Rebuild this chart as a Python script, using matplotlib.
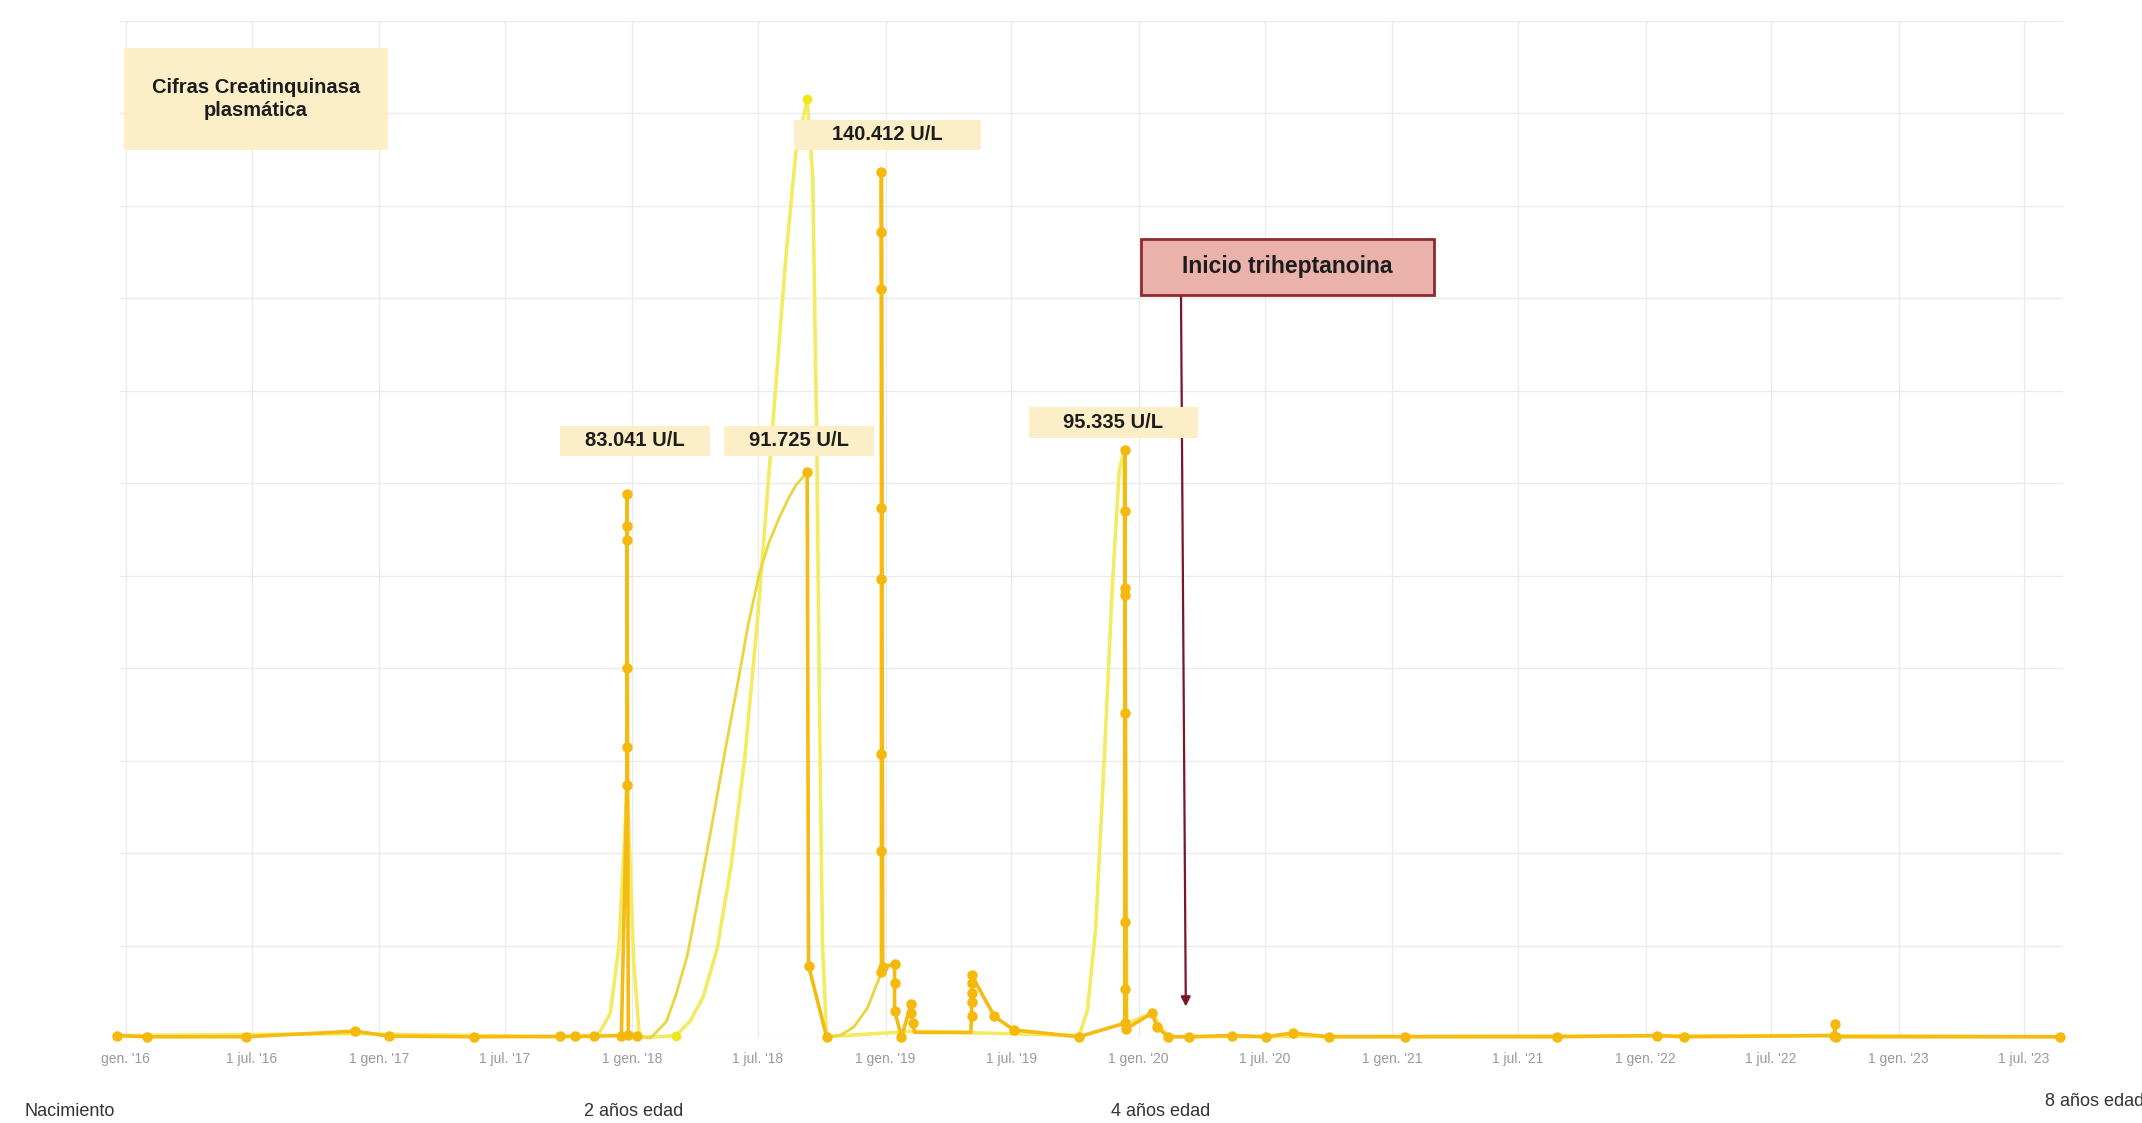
import matplotlib
matplotlib.use("Agg")
import matplotlib.pyplot as plt
import numpy as np
import pandas as pd
from matplotlib.patches import Rectangle

plt.rcParams["font.family"] = ["Liberation Sans", "DejaVu Sans"]

# --- datos (CK plasmática, U/L) ---
gold1_dates = ["2015-12-20", "2016-02-01", "2016-06-22", "2016-11-27", "2017-01-15",
               "2017-05-17", "2017-09-19", "2017-10-10", "2017-11-07", "2017-12-16",
               "2017-12-24", "2017-12-24", "2017-12-24", "2017-12-24", "2017-12-24",
               "2017-12-24", "2017-12-26", "2018-01-07"]
gold1_vals = [400, 200, 200, 1100, 300, 200, 250, 300, 300, 400,
              41000, 47200, 60000, 80700, 83041, 88200, 500, 300]

gold2_dates = ["2018-09-10", "2018-09-12", "2018-10-08"]
gold2_vals = [91725, 11700, 200]

gold3_dates = ["2018-12-26"] * 8 + [
    "2018-12-28", "2019-01-14", "2019-01-14", "2019-01-14", "2019-01-24",
    "2019-02-07", "2019-02-07", "2019-02-09", "2019-02-12", "2019-05-04",
    "2019-05-05", "2019-05-05", "2019-05-05", "2019-05-05", "2019-05-05",
    "2019-06-07", "2019-07-05", "2019-10-07"] + ["2019-12-12"] * 8 + [
    "2019-12-14", "2020-01-20", "2020-01-28", "2020-02-12", "2020-03-13",
    "2020-05-15", "2020-07-02", "2020-08-10", "2020-10-01", "2021-01-19",
    "2021-08-27", "2022-01-18", "2022-02-25", "2022-09-30", "2022-10-01",
    "2022-10-02", "2023-08-22"]
gold3_vals = [10640, 30360, 46090, 74460, 85980, 121430, 130740, 140412,
              11500, 12000, 8900, 4400, 200,
              5500, 4100, 2400, 900, 900,
              3500, 5760, 7300, 8900, 10200,
              3500, 1300, 200,
              2400, 8000, 18800, 52700, 71800, 72900, 85500, 95335,
              1500, 4000, 1800, 200, 200,
              400, 200, 800, 200, 200,
              200, 400, 200, 400, 2200,
              200, 200]
# puntos sin marcador (tramo plano 2019)
gold3_nomark = ["2019-02-12", "2019-05-04"]

# curva suavizada (amarillo medio)
yellow_dates = ["2018-01-07", "2018-01-27", "2018-02-19", "2018-03-05", "2018-03-21",
                "2018-04-08", "2018-04-27", "2018-05-15", "2018-06-02", "2018-06-17",
                "2018-07-03", "2018-07-17", "2018-07-31", "2018-08-14", "2018-08-25",
                "2018-09-10"]
yellow_vals = [300, 0, 2660, 7100, 13300, 23900, 35460, 46800, 57600, 67100,
               75300, 80400, 84200, 87500, 89700, 91725]
yellow2_dates = ["2018-10-08", "2018-10-28", "2018-11-16", "2018-12-06", "2018-12-26"]
yellow2_vals = [200, 440, 1770, 4880, 10640]

# serie clara
pale_dates = ["2015-12-20", "2016-11-27", "2017-09-19", "2017-11-11", "2017-11-30",
              "2017-12-12", "2017-12-20", "2017-12-24", "2017-12-28", "2018-01-03",
              "2018-01-11", "2018-02-09", "2018-03-05", "2018-03-25", "2018-04-13",
              "2018-05-03", "2018-05-23", "2018-06-12", "2018-07-01", "2018-07-21",
              "2018-08-10", "2018-08-25", "2018-09-10", "2018-09-18", "2018-09-24",
              "2018-09-28", "2018-10-02", "2018-10-08", "2019-02-09", "2019-10-07",
              "2019-10-19", "2019-10-31", "2019-11-12", "2019-11-24", "2019-12-04",
              "2019-12-11", "2019-12-15", "2020-01-20", "2020-02-12", "2022-10-01",
              "2023-08-22"]
pale_vals = [400, 700, 200, 200, 4000,
             14400, 31000, 41000, 29900, 12200,
             200, 200, 400, 2700, 6650,
             14400, 27700, 45400, 68700, 97500,
             126300, 144000, 152200, 139600, 95300,
             51000, 15500, 200, 1100, 400,
             4400, 17700, 44300, 73100, 92000,
             95335, 2400, 4000, 200, 400,
             200]
pale_mark_dates = ["2018-03-05", "2018-09-10"]
pale_mark_vals = [400, 152200]

tick_dates = ["2016-01-01", "2016-07-01", "2017-01-01", "2017-07-01", "2018-01-01",
              "2018-07-01", "2019-01-01", "2019-07-01", "2020-01-01", "2020-07-01",
              "2021-01-01", "2021-07-01", "2022-01-01", "2022-07-01", "2023-01-01",
              "2023-07-01"]
tick_labels = ["gen. '16", "1 jul. '16", "1 gen. '17", "1 jul. '17", "1 gen. '18",
               "1 jul. '18", "1 gen. '19", "1 jul. '19", "1 gen. '20", "1 jul. '20",
               "1 gen. '21", "1 jul. '21", "1 gen. '22", "1 jul. '22", "1 gen. '23",
               "1 jul. '23"]

GOLD = "#F6BB12"
YELLOW = "#E9D63E"
PALE = "#F3EC62"

W, H = 2142, 1123
fig = plt.figure(figsize=(W / 100, H / 100), dpi=100)
ax = fig.add_axes([120 / W, 1 - 1038 / H, (2063 - 120) / W, (1038 - 20.5) / H])

d = pd.to_datetime
ax.plot(d(pale_dates), pale_vals, color=PALE, lw=2.6, zorder=2, clip_on=False,
        solid_capstyle="round")
ax.plot(d(pale_mark_dates), pale_mark_vals, "o", color="#F2E41C", ms=6, zorder=2,
        clip_on=False)
for xs, ys in [(yellow_dates, yellow_vals), (yellow2_dates, yellow2_vals)]:
    ax.plot(d(xs), ys, color=YELLOW, lw=2.0, zorder=3, clip_on=False)
for xs, ys in [(gold1_dates, gold1_vals), (gold2_dates, gold2_vals),
               (gold3_dates, gold3_vals)]:
    mk = [i for i, x in enumerate(xs) if x not in gold3_nomark]
    ax.plot(d(xs), ys, color=GOLD, lw=2.6, marker="o", ms=6.5, mfc="#F5B80C",
            mec="#F5B80C", markevery=mk, zorder=4, clip_on=False)

ax.set_xlim(d("2015-12-24"), d("2023-08-26"))
ax.set_ylim(0, 165000)
ax.set_xticks(d(tick_dates))
ax.set_xticklabels(tick_labels)
ax.set_yticks(np.arange(0, 165001, 15000))
ax.set_yticklabels([])
ax.tick_params(axis="both", length=0)
ax.tick_params(axis="x", labelsize=10, labelcolor="#999999", pad=10)
ax.grid(True, color="#ebebeb", lw=1)
ax.set_axisbelow(True)
for s in ax.spines.values():
    s.set_visible(False)


def box(cx, cy, w, h, text, size, fc, ec=None):
    fig.add_artist(Rectangle(((cx - w / 2) / W, 1 - (cy + h / 2) / H), w / W, h / H,
                             transform=fig.transFigure, fc=fc,
                             ec=ec if ec else "none", lw=2 if ec else 0, zorder=5))
    fig.text(cx / W, 1 - cy / H, text, ha="center", va="center", fontsize=size,
             fontweight="bold", color="#1c1c1c", zorder=6, linespacing=1.25)


LABEL_BG = "#FCEFC8"
box(256, 99, 264, 101, "Cifras Creatinquinasa\nplasmática", 14.5, LABEL_BG)
box(887, 135, 187, 30, "140.412 U/L", 14.5, LABEL_BG)
box(635, 441, 150, 30, "83.041 U/L", 14.5, LABEL_BG)
box(799, 441, 150, 30, "91.725 U/L", 14.5, LABEL_BG)
box(1113, 423, 169, 31, "95.335 U/L", 14.5, LABEL_BG)
box(1287, 267, 293, 56, "Inicio triheptanoina", 16.5, "#EBB2AC", ec="#8E2A2E")

ax.annotate("", xy=(d("2020-03-09"), 5100), xytext=(1181 / W, 1 - 296 / H),
            textcoords="figure fraction",
            arrowprops=dict(arrowstyle="-|>", color="#7A1626", lw=1.6,
                            mutation_scale=14, shrinkA=0, shrinkB=0), zorder=6)

for x, y, txt, ha in [(25, 1111, "Nacimiento", "left"),
                      (634, 1111, "2 años edad", "center"),
                      (1161, 1111, "4 años edad", "center"),
                      (2045, 1102, "8 años edad", "left")]:
    fig.text(x / W, 1 - y / H, txt, ha=ha, va="center", fontsize=13,
             color="#333333")

fig.savefig("out.png", dpi=100)
